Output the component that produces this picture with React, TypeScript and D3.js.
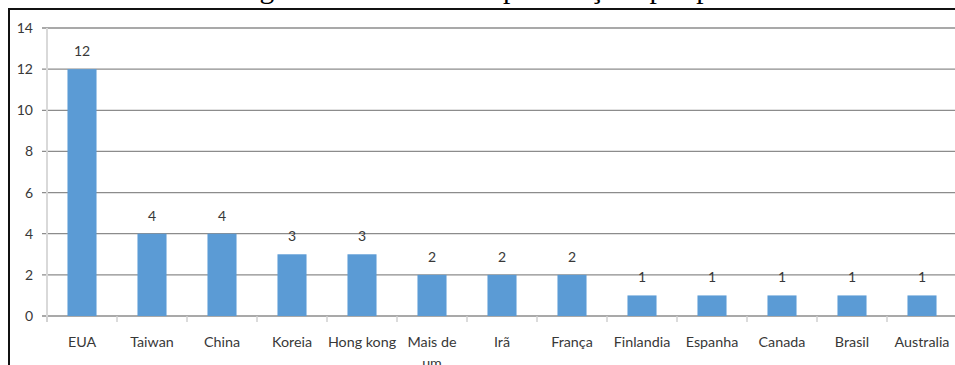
import React from "react";
import * as d3 from "d3";

const categories = [
  "EUA", "Taiwan", "China", "Koreia", "Hong kong", "Mais de um", "Irã",
  "França", "Finlandia", "Espanha", "Canada", "Brasil", "Australia",
];
const values = [12, 4, 4, 3, 3, 2, 2, 2, 1, 1, 1, 1, 1];
const yTicks = [0, 2, 4, 6, 8, 10, 12, 14];
const title = "Figura 2 – Número de publicações por país";

// category labels that wrap onto two lines
const wrapped: Record<string, string[]> = { "Mais de um": ["Mais de", "um"] };

const W = 955;
const H = 365;
const plot = { left: 47, right: 957, top: 28, bottom: 316 };
const labelFont = "Lato, 'Liberation Sans', Arial, sans-serif";
const textColor = "#383838";

export default function App() {
  const x = d3.scaleBand<string>().domain(categories).range([plot.left, plot.right]).paddingInner(0).paddingOuter(0);
  const y = d3.scaleLinear().domain([0, 14]).range([plot.bottom, plot.top]);
  const barW = x.bandwidth() * 0.415;

  return (
    <svg width={W} height={H} style={{ position: "absolute", left: 0, top: 0, background: "#fff" }}>
      {/* caption, sitting above the frame */}
      <text x={235} y={-2} fontFamily="'Liberation Serif', 'Times New Roman', serif" fontSize={29.5} fill="#000">
        {title}
      </text>

      {/* outer frame */}
      <rect x={9} y={9} width={W + 20} height={H + 20} fill="none" stroke="#111" strokeWidth={2} />

      {/* horizontal gridlines */}
      {yTicks.map((t) => (
        <line key={`g${t}`} x1={plot.left - 5} x2={W} y1={y(t)} y2={y(t)} stroke="#8c8c8c" strokeWidth={1.3} />
      ))}

      {/* vertical axis */}
      <line x1={plot.left} x2={plot.left} y1={plot.top} y2={plot.bottom + 6} stroke="#d9d9d9" strokeWidth={2} />

      {/* category boundary ticks */}
      {categories.map((c) => (
        <line key={`t${c}`} x1={x(c)!} x2={x(c)!} y1={plot.bottom} y2={plot.bottom + 6} stroke="#d0d0d0" strokeWidth={1.5} />
      ))}

      {/* y tick labels */}
      {yTicks.map((t) => (
        <text key={`yl${t}`} x={33} y={y(t) + 5} textAnchor="end" fontFamily={labelFont} fontSize={14} fill={textColor}>
          {t}
        </text>
      ))}

      {/* bars */}
      {categories.map((c, i) => (
        <rect
          key={`b${c}`}
          x={x(c)! + x.bandwidth() / 2 - barW / 2}
          y={y(values[i])}
          width={barW}
          height={y(0) - y(values[i])}
          fill="#5b9bd5"
        />
      ))}

      {/* value labels */}
      {categories.map((c, i) => (
        <text
          key={`v${c}`}
          x={x(c)! + x.bandwidth() / 2}
          y={y(values[i]) - 13}
          textAnchor="middle"
          fontFamily={labelFont}
          fontSize={14}
          fill={textColor}
        >
          {values[i]}
        </text>
      ))}

      {/* category labels */}
      {categories.map((c) => {
        const lines = wrapped[c] ?? [c];
        return (
          <text
            key={`c${c}`}
            x={x(c)! + x.bandwidth() / 2}
            y={347}
            textAnchor="middle"
            fontFamily={labelFont}
            fontSize={14.3}
            fill={textColor}
          >
            {lines.map((l, k) => (
              <tspan key={k} x={x(c)! + x.bandwidth() / 2} dy={k === 0 ? 0 : 21}>
                {l}
              </tspan>
            ))}
          </text>
        );
      })}
    </svg>
  );
}
